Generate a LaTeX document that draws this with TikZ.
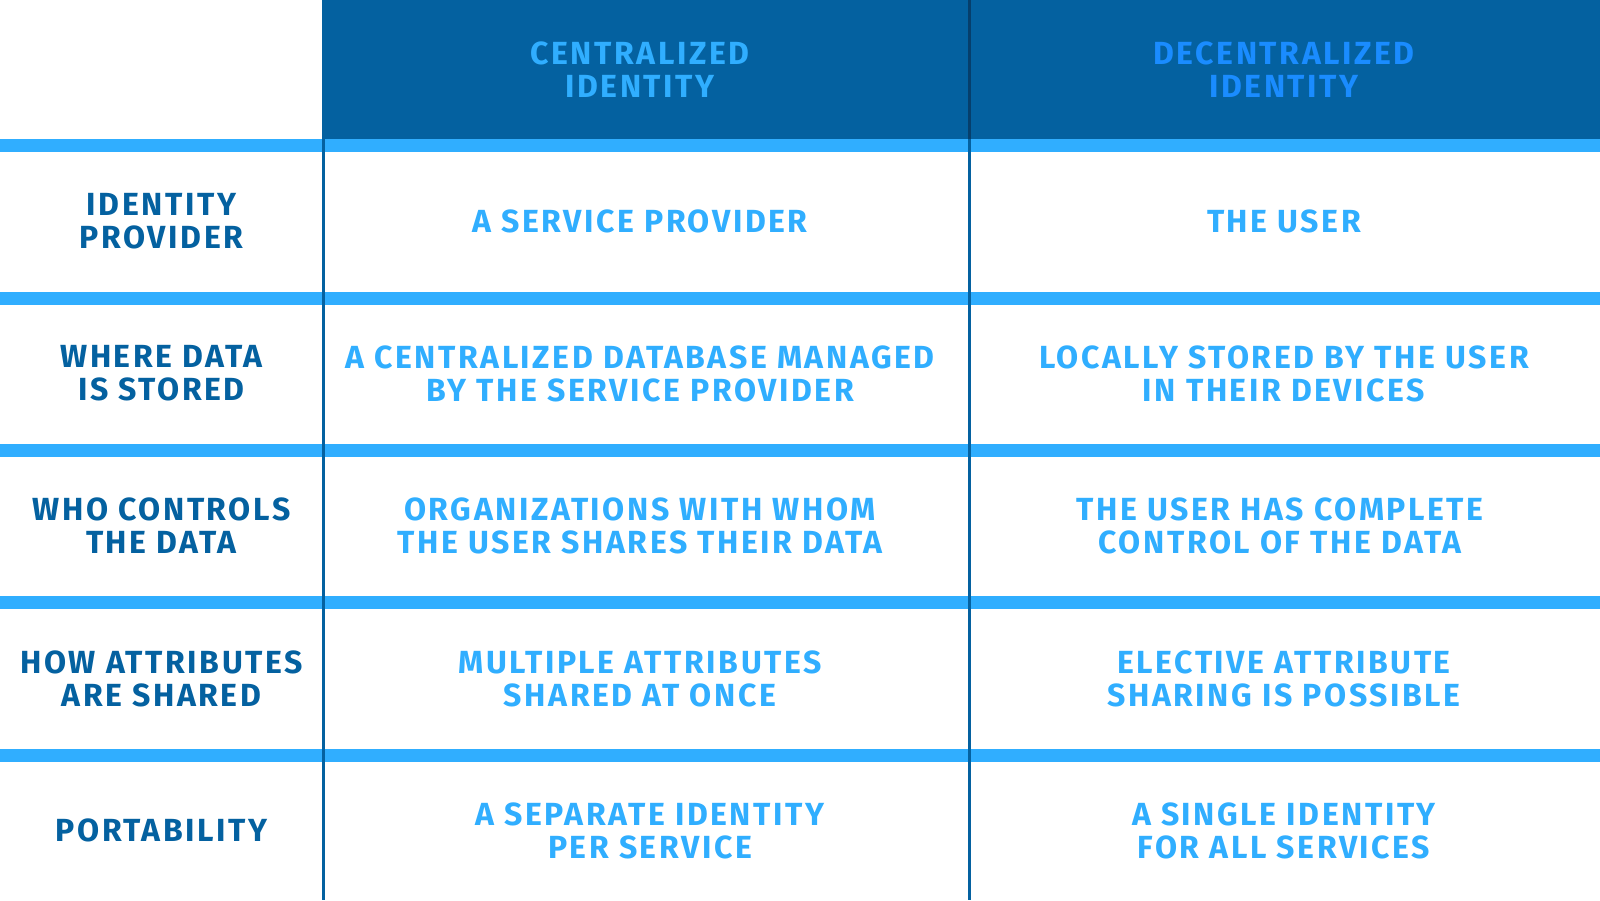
\documentclass[tikz,border=0pt]{standalone}
\usepackage{fontspec}
\newfontfamily\tabfont{Fira Sans}[LetterSpace=8]
\definecolor{darkblue}{HTML}{0461A0}
\definecolor{darkerblue}{HTML}{063F6C}
\definecolor{lightblue}{HTML}{30AEFF}
\definecolor{vividblue}{HTML}{1A8CFF}
\tikzset{
  cell/.style={align=center, inner sep=0pt, font=\tabfont\bfseries\fontsize{32}{33}\selectfont},
  rowlabel/.style={cell, text=darkblue},
  content/.style={cell, text=lightblue},
  band/.style={fill=lightblue},
}
\begin{document}
\begin{tikzpicture}[x=1pt,y=-1pt]
\fill[white] (0,0) rectangle (1600,900);
\useasboundingbox (0,0) rectangle (1600,900);
% header
\fill[darkblue] (323,0) rectangle (1600,139);
% bands
\foreach \y in {139,291.5,443.5,596,748.5}{
  \fill[lightblue] (0,\y) rectangle (1600,\y+13);
}
% vertical lines
\fill[darkblue] (322,0) rectangle (325,900);
\fill[darkblue] (968,139) rectangle (971,900);
\fill[darkerblue] (968,0) rectangle (971,139);
% header texts
\node[content] (hc) at (640,69.5) {CENTRALIZED\\IDENTITY};
\node[cell, text=vividblue] (hd) at (1284,69.5) {DECENTRALIZED\\IDENTITY};
% row labels
\node[rowlabel] (r1) at (161.5,221.5) {IDENTITY\\PROVIDER};
\node[rowlabel] (r2) at (161.5,373.5) {WHERE DATA\\IS STORED};
\node[rowlabel] (r3) at (161.5,526) {WHO CONTROLS\\THE DATA};
\node[rowlabel] (r4) at (161.5,678.5) {HOW ATTRIBUTES\\ARE SHARED};
\node[rowlabel] (r5) at (161.5,830.5) {PORTABILITY};
% centralized column
\node[content] (c1) at (640,221.5) {A SERVICE PROVIDER};
\node[content] (c2) at (640,373.5) {A CENTRALIZED DATABASE MANAGED\\BY THE SERVICE PROVIDER};
\node[content] (c3) at (640,526) {ORGANIZATIONS WITH WHOM\\THE USER SHARES THEIR DATA};
\node[content] (c4) at (640,678.5) {MULTIPLE ATTRIBUTES\\SHARED AT ONCE};
\node[content] (c5) at (650,830.5) {A SEPARATE IDENTITY\\PER SERVICE};
% decentralized column
\node[content] (d1) at (1284,221.5) {THE USER};
\node[content] (d2) at (1284,373.5) {LOCALLY STORED BY THE USER\\IN THEIR DEVICES};
\node[content] (d3) at (1280,526) {THE USER HAS COMPLETE\\CONTROL OF THE DATA};
\node[content] (d4) at (1284,678.5) {ELECTIVE ATTRIBUTE\\SHARING IS POSSIBLE};
\node[content] (d5) at (1284,830.5) {A SINGLE IDENTITY\\FOR ALL SERVICES};
\end{tikzpicture}
\end{document}
